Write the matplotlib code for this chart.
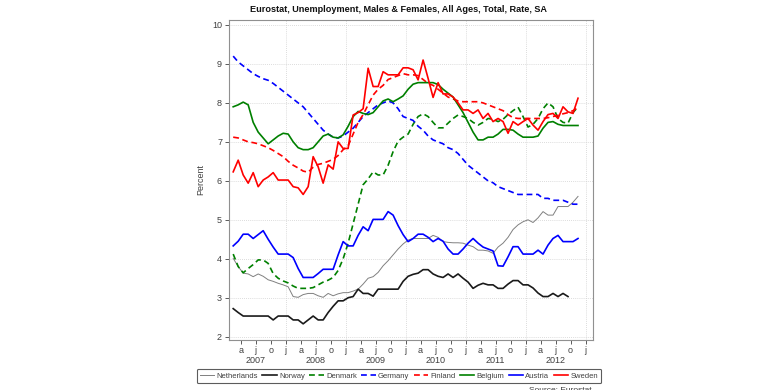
import numpy as np
import matplotlib
matplotlib.use("Agg")
import matplotlib.pyplot as plt
from matplotlib.lines import Line2D

plt.rcParams["font.family"] = ["Liberation Sans", "DejaVu Sans"]

# ---- data: monthly, Feb 2007 .. Nov 2012 (month index 1 = Feb 2007) ----
first_month = 1  # months after Jan 2007

netherlands = [4.01, 3.8, 3.63, 3.61, 3.54, 3.61, 3.55, 3.46, 3.42, 3.37, 3.33, 3.28,
               3.03, 3.01, 3.08, 3.11, 3.11, 3.05, 3.01, 3.11, 3.05, 3.1, 3.13, 3.13,
               3.17, 3.22, 3.35, 3.5, 3.54, 3.65, 3.82, 3.95, 4.1, 4.25, 4.38, 4.48,
               4.52, 4.52, 4.52, 4.52, 4.6, 4.55, 4.44, 4.42, 4.41, 4.41, 4.4, 4.35,
               4.31, 4.22, 4.22, 4.2, 4.14, 4.3, 4.4, 4.55, 4.75, 4.87, 4.95, 5.0,
               4.93, 5.05, 5.21, 5.12, 5.12, 5.34, 5.34, 5.34, 5.45, 5.6]
norway = [2.72, 2.62, 2.53, 2.53, 2.53, 2.53, 2.53, 2.53, 2.43, 2.53, 2.53, 2.53,
          2.43, 2.43, 2.33, 2.43, 2.53, 2.43, 2.43, 2.62, 2.78, 2.92, 2.92, 3.0,
          3.03, 3.22, 3.11, 3.11, 3.04, 3.22, 3.22, 3.22, 3.22, 3.22, 3.42, 3.55,
          3.6, 3.63, 3.72, 3.72, 3.61, 3.55, 3.52, 3.61, 3.52, 3.61, 3.5, 3.4,
          3.24, 3.32, 3.37, 3.33, 3.33, 3.24, 3.24, 3.35, 3.44, 3.44, 3.33, 3.33,
          3.25, 3.12, 3.03, 3.03, 3.11, 3.03, 3.11, 3.03]
denmark = [4.12, 3.8, 3.64, 3.75, 3.85, 3.97, 3.97, 3.88, 3.62, 3.5, 3.43, 3.38,
           3.3, 3.24, 3.24, 3.24, 3.26, 3.33, 3.4, 3.45, 3.52, 3.7, 4.0, 4.4,
           4.9, 5.4, 5.9, 6.05, 6.23, 6.15, 6.15, 6.4, 6.75, 7.02, 7.12, 7.2,
           7.45, 7.65, 7.72, 7.65, 7.5, 7.36, 7.36, 7.48, 7.6, 7.69, 7.65, 7.6,
           7.5, 7.43, 7.5, 7.6, 7.58, 7.52, 7.58, 7.7, 7.8, 7.89, 7.65, 7.38,
           7.45, 7.6, 7.85, 8.0, 7.9, 7.6, 7.5, 7.48, 7.75, 7.9]
germany = [9.2, 9.05, 8.95, 8.85, 8.75, 8.68, 8.62, 8.58, 8.5, 8.4, 8.3, 8.2,
           8.1, 8.0, 7.9, 7.75, 7.6, 7.45, 7.3, 7.2, 7.12, 7.1, 7.15, 7.25,
           7.35, 7.5, 7.65, 7.75, 7.85, 7.95, 8.0, 8.05, 8.0, 7.85, 7.65, 7.6,
           7.55, 7.4, 7.3, 7.15, 7.05, 7.0, 6.95, 6.85, 6.8, 6.7, 6.55, 6.4,
           6.3, 6.2, 6.1, 6.0, 5.95, 5.85, 5.8, 5.75, 5.7, 5.65, 5.65, 5.65,
           5.65, 5.65, 5.55, 5.55, 5.5, 5.5, 5.5, 5.45, 5.4, 5.4]
finland = [7.12, 7.1, 7.05, 7.0, 6.98, 6.95, 6.9, 6.85, 6.78, 6.7, 6.62, 6.5,
           6.4, 6.33, 6.25, 6.22, 6.35, 6.42, 6.45, 6.5, 6.55, 6.65, 6.8, 6.9,
           7.2, 7.5, 7.7, 7.95, 8.2, 8.35, 8.45, 8.6, 8.65, 8.7, 8.75, 8.72,
           8.72, 8.7, 8.6, 8.5, 8.45, 8.35, 8.25, 8.15, 8.1, 8.05, 8.03, 8.03,
           8.03, 8.03, 8.0, 7.95, 7.9, 7.85, 7.8, 7.7, 7.62, 7.6, 7.6, 7.6,
           7.6, 7.6, 7.6, 7.62, 7.65, 7.68, 7.72, 7.75, 7.8, 7.88]
belgium = [7.9, 7.95, 8.02, 7.95, 7.5, 7.25, 7.1, 6.95, 7.05, 7.15, 7.22, 7.2,
           7.0, 6.85, 6.8, 6.8, 6.85, 7.0, 7.15, 7.2, 7.12, 7.1, 7.18, 7.4,
           7.65, 7.78, 7.73, 7.7, 7.75, 7.9, 8.05, 8.1, 8.03, 8.1, 8.18, 8.35,
           8.48, 8.52, 8.52, 8.52, 8.52, 8.47, 8.35, 8.25, 8.15, 7.95, 7.75, 7.5,
           7.25, 7.05, 7.05, 7.12, 7.12, 7.2, 7.32, 7.32, 7.3, 7.2, 7.12, 7.12,
           7.12, 7.15, 7.35, 7.5, 7.52, 7.45, 7.42, 7.42, 7.42, 7.42]
austria = [4.33, 4.45, 4.63, 4.63, 4.52, 4.62, 4.72, 4.5, 4.3, 4.12, 4.12, 4.12,
           4.03, 3.75, 3.52, 3.52, 3.52, 3.62, 3.73, 3.73, 3.73, 4.1, 4.44, 4.33,
           4.33, 4.6, 4.82, 4.72, 5.01, 5.01, 5.01, 5.21, 5.12, 4.85, 4.62, 4.44,
           4.52, 4.63, 4.63, 4.55, 4.44, 4.52, 4.45, 4.25, 4.12, 4.12, 4.25, 4.4,
           4.52, 4.4, 4.3, 4.25, 4.2, 3.82, 3.81, 4.05, 4.31, 4.31, 4.12, 4.12,
           4.12, 4.22, 4.12, 4.35, 4.52, 4.6, 4.44, 4.44, 4.44, 4.52]
sweden = [6.23, 6.53, 6.15, 5.94, 6.21, 5.85, 6.02, 6.1, 6.21, 6.02, 6.02, 6.02,
          5.85, 5.82, 5.65, 5.85, 6.62, 6.36, 5.94, 6.41, 6.3, 7.0, 6.83, 6.83,
          7.69, 7.75, 7.85, 8.89, 8.42, 8.42, 8.8, 8.72, 8.72, 8.72, 8.9, 8.9,
          8.85, 8.59, 9.1, 8.63, 8.14, 8.52, 8.23, 8.23, 8.15, 8.0, 7.82, 7.82,
          7.73, 7.82, 7.6, 7.73, 7.52, 7.6, 7.52, 7.22, 7.52, 7.43, 7.52, 7.6,
          7.43, 7.3, 7.52, 7.7, 7.73, 7.6, 7.9, 7.77, 7.73, 8.12]

series = [
    ("Netherlands", netherlands, "#808080", "-", 0.7),
    ("Norway", norway, "#1a1a1a", "-", 1.2),
    ("Denmark", denmark, "#008000", "--", 1.2),
    ("Germany", germany, "#0000ff", "--", 1.2),
    ("Finland", finland, "#ff0000", "--", 1.2),
    ("Belgium", belgium, "#008000", "-", 1.2),
    ("Austria", austria, "#0000ff", "-", 1.2),
    ("Sweden", sweden, "#ff0000", "-", 1.2),
]

quarter_labels = ["a", "j", "o", "j"]
years = ["2007", "2008", "2009", "2010", "2011", "2012"]
title = "Eurostat, Unemployment, Males & Females, All Ages, Total, Rate, SA"

W, H = 780, 390
fig = plt.figure(figsize=(W / 100, H / 100), dpi=100)
ax = fig.add_axes([229 / W, 1 - 340 / H, (593 - 229) / W, (340 - 19.5) / H])

DASH = (3.5, 2.2)
for name, vals, col, ls, lw in series:
    t = first_month + np.arange(len(vals)) + 0.5
    kw = dict(dashes=DASH) if ls == "--" else {}
    ax.plot(t, vals, color=col, lw=lw, linestyle=ls, solid_joinstyle="round", **kw)

ax.set_xlim(0.66, 73.5)
ax.set_ylim(1.915, 10.14)

# y axis
ax.set_yticks(range(2, 11))
ax.set_yticklabels([str(v) for v in range(2, 11)])
ax.set_ylabel("Percent", fontsize=6.5, color="#404040", labelpad=5)

# x axis quarter ticks
qt = list(range(3, 73, 3))
ax.set_xticks(qt)
ax.set_xticklabels([quarter_labels[(q // 3 - 1) % 4] for q in qt])
for i, y in enumerate(years):
    ax.text(6 + 12 * i, -0.05, y, transform=ax.get_xaxis_transform(),
            ha="center", va="top", fontsize=6.5, color="#404040")

ax.tick_params(axis="both", labelsize=6.5, colors="#404040", length=3, width=0.6,
               direction="out", pad=2)
ax.tick_params(axis="x", pad=1.0)

# grid
for v in range(2, 11):
    ax.axhline(v, color="#d0d0d0", lw=0.6, ls=(0, (1, 1.5)), zorder=0)
for v in range(12, 73, 12):
    ax.axvline(v, color="#d0d0d0", lw=0.6, ls=(0, (1, 1.5)), zorder=0)

for s in ax.spines.values():
    s.set_color("#909090")
    s.set_linewidth(0.8)

fig.text(398 / W, 1 - 9 / H, title, ha="center", va="center", fontsize=6.6,
         fontweight="bold", color="#111111")

handles = []
for name, vals, col, ls, lw in series:
    kw = dict(dashes=DASH) if ls == "--" else {}
    handles.append(Line2D([], [], color=col, lw=lw, linestyle=ls, **kw))
leg = fig.legend(handles, [s[0] for s in series], loc="center",
                 bbox_to_anchor=(399 / W, 1 - 376 / H), ncol=8, fontsize=5.5,
                 frameon=True, fancybox=True, handlelength=1.9, handletextpad=0.3,
                 columnspacing=0.55, borderpad=0.45, labelcolor="#404040")
leg.get_frame().set_edgecolor("#333333")
leg.get_frame().set_linewidth(0.8)

fig.text(560 / W, 3 / H, "Source: Eurostat", ha="center", va="top", fontsize=6,
         color="#404040")

fig.savefig("out.png", dpi=100)
